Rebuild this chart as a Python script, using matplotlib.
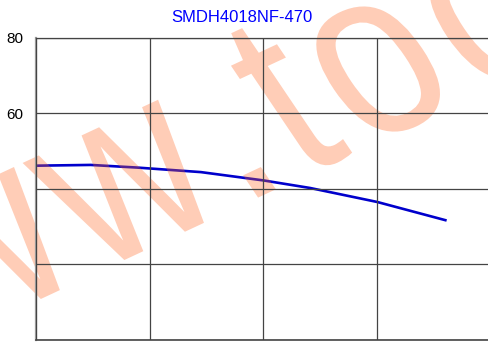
import matplotlib
matplotlib.use("Agg")
import matplotlib.pyplot as plt
from matplotlib.textpath import TextPath, text_to_path
from matplotlib.patches import PathPatch
from matplotlib.font_manager import FontProperties
from matplotlib.transforms import Affine2D

# inductance curve
current = [0.0, 0.48, 0.89, 1.45, 2.0, 2.41, 3.0, 3.61]
inductance = [46.1, 46.3, 45.6, 44.4, 42.2, 40.2, 36.5, 31.6]

y_ticks = [0, 20, 40, 60, 80]
y_tick_labels = ["", "", "", "60", "80"]
x_ticks = [0, 1, 2, 3, 4]

title = "SMDH4018NF-470"
watermark = "www.tocos.com"

plt.rcParams['font.family'] = ['Liberation Sans', 'DejaVu Sans']

fig = plt.figure(figsize=(4.89, 3.43), dpi=100)
ax = fig.add_axes([36 / 489, 3 / 343, 455 / 489, 302.5 / 343])

# curve sits under the watermark
ax.plot(current, inductance, color='#0000cc', lw=1.9, zorder=1, solid_capstyle='butt')

ax.set_xlim(0, 4)
ax.set_ylim(0, 80)
ax.set_xticks(x_ticks)
ax.set_xticklabels([])
ax.set_yticks(y_ticks)
ax.set_yticklabels(y_tick_labels, fontsize=11)
ax.tick_params(length=0, pad=9)

ax.set_axisbelow(False)
ax.grid(True, color='#444444', lw=0.9)
ax.spines['right'].set_visible(False)
ax.spines['top'].set_color('#444444')
ax.spines['top'].set_linewidth(0.9)
ax.spines['bottom'].set_color('#444444')
ax.spines['bottom'].set_linewidth(1.2)
ax.spines['left'].set_color('#999999')
ax.spines['left'].set_linewidth(1.6)

fig.text(0.495, 1 - 17 / 343, title, color='#0000ff', fontsize=12,
         ha='center', va='center')

# watermark: sheared, letter-spaced text laid out in pixel space,
# over the curve but under the grid
wm_prop = FontProperties(family='Liberation Sans', size=1)
wm_tr = Affine2D.from_values(186.6, 87.1, -140.3, 208.1, -191.2, -64.3)
pos = 0.0
for ch in watermark:
    glyph = TextPath((pos, 0), ch, size=1, prop=wm_prop)
    ax.add_patch(PathPatch(glyph, transform=wm_tr, facecolor='#ff6420',
                           edgecolor='none', alpha=0.32, zorder=2, clip_on=False))
    w, h, d = text_to_path.get_text_width_height_descent(ch, wm_prop, ismath=False)
    pos += w + 0.05

fig.savefig('out.png', dpi=100)
